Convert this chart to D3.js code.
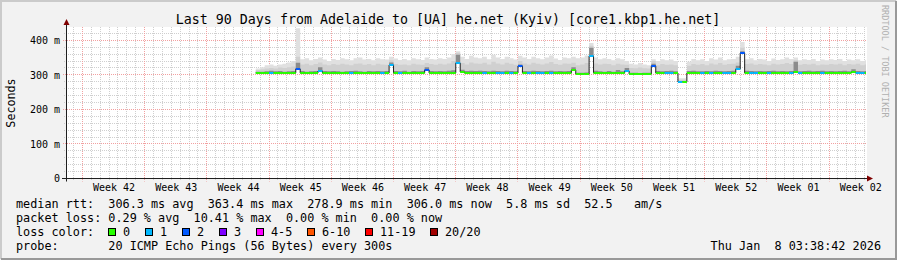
<!DOCTYPE html>
<html>
<head>
<meta charset="utf-8">
<script src="https://cdn.jsdelivr.net/npm/d3@7"></script>
<style>
  body { margin: 0; background: #fff; }
  svg { display: block; font-family: "DejaVu Sans Mono", monospace; }
  text { white-space: pre; }
</style>
</head>
<body>
<script>

//CHART DATA (12 hour samples, first one at Oct 31 12:00)
var endTime = new Date(2026, 0, 8, 3, 38, 42);
var firstSample = new Date(2025, 9, 31, 12, 0, 0);

//median rtt, ms
var median = [
    306,306,306,305,306,306,305,306,306,318,
    306,305,305,306,312,306,305,305,306,305,
    305,305,306,305,305,306,305,305,305,306,
    328,306,305,305,306,305,305,306,315,306,
    305,305,306,305,305,335,307,305,305,306,
    305,305,306,305,305,305,306,305,305,325,
    306,305,305,305,305,306,305,305,306,305,
    305,315,302,302,302,355,306,305,305,305,
    305,306,305,312,302,302,302,302,302,325,
    306,305,305,305,306,279,279,305,305,305,
    305,306,305,305,305,305,305,306,318,362,
    306,305,305,306,305,305,305,306,305,305,
    305,307,305,305,305,306,305,305,305,305,
    306,305,305,305,307,305,305,306
];

//upper quartile of the pings, ms (dark smoke)
var q75 = [
    309,309,310,312,310,311,309,310,311,335,
    311,309,310,311,322,311,310,311,310,309,
    310,311,312,310,309,311,310,311,310,311,
    336,311,310,312,309,311,310,311,322,311,
    310,311,310,312,313,358,315,311,312,311,
    312,311,310,312,311,310,312,311,310,330,
    311,310,312,311,310,311,312,310,311,310,
    311,322,306,306,307,378,312,310,309,311,
    309,314,310,320,306,306,305,306,306,332,
    311,310,311,312,310,282,282,311,312,310,
    310,311,310,312,311,310,311,312,326,368,
    312,311,310,311,310,311,312,310,311,310,
    311,338,310,311,312,310,311,312,310,311,
    310,311,312,310,316,311,310,311
];

//90th percentile of the pings, ms (medium smoke)
var q90 = [
    314,316,318,320,318,321,320,322,324,352,
    330,332,328,331,336,330,328,331,329,332,
    330,328,332,333,329,331,328,332,330,329,
    342,331,329,330,328,332,330,329,334,331,
    329,332,330,333,340,364,334,330,336,333,
    332,335,330,338,333,330,335,332,329,340,
    333,330,335,332,330,333,337,331,329,333,
    332,335,328,330,334,384,333,330,332,331,
    328,332,330,329,320,319,321,319,318,340,
    328,331,329,330,328,286,286,326,331,329,
    331,328,333,330,334,329,331,332,336,378,
    331,333,329,331,330,328,332,330,331,334,
    331,342,329,331,330,332,328,330,329,331,
    330,332,328,331,330,332,328,330
];

//slowest ping, ms (light smoke)
var maxPing = [
    318,322,328,330,326,330,332,336,340,435,
    345,348,342,346,350,344,340,346,343,348,
    345,342,348,350,344,346,342,348,345,344,
    352,347,343,346,342,348,345,343,350,346,
    344,348,346,350,360,368,352,346,355,350,
    348,352,345,358,350,346,352,348,344,355,
    350,346,352,348,345,350,356,347,343,350,
    348,352,348,350,356,392,350,345,348,346,
    342,348,345,340,332,330,334,330,328,345,
    340,345,342,344,340,290,290,338,346,342,
    345,340,348,344,350,342,345,346,352,395,
    345,348,342,346,344,340,347,343,345,350,
    346,350,342,345,343,346,340,344,342,345,
    343,346,340,344,342,345,340,342
];

//lost pings out of 20
var loss = [
    0,0,0,1,0,0,0,0,0,2,
    0,0,0,0,1,0,0,0,0,0,
    0,1,0,0,0,0,0,0,1,0,
    1,0,1,0,0,0,0,0,2,0,
    0,0,0,0,0,1,0,0,0,0,
    0,1,0,0,1,1,0,1,0,2,
    0,1,0,1,1,0,1,0,0,0,
    0,0,0,0,0,1,0,0,0,0,
    0,0,0,1,0,0,0,0,0,2,
    0,0,1,1,0,1,0,0,0,0,
    1,0,1,0,0,1,1,0,1,2,
    0,1,1,0,0,1,0,0,0,0,
    1,0,1,0,0,0,0,1,0,0,
    0,0,0,0,0,1,1,0
];

var lossLabels = ["0", "1", "2", "3", "4-5", "6-10", "11-19", "20/20"];
var lossColors = ["#26ff00", "#00b8ff", "#0059ff", "#7e00ff", "#ff00ff", "#ff5500", "#ff0000", "#a10000"];

var yTicks = [0, 100, 200, 300, 400];

var rttStats = ["306.3 ms avg", "363.4 ms max", "278.9 ms min", "306.0 ms now", "5.8 ms sd", "52.5   am/s"];
var lossStats = ["0.29 % avg", "10.41 % max", "0.00 % min", "0.00 % now"];
var probeText = "20 ICMP Echo Pings (56 Bytes) every 300s";
var titleText = "Last 90 Days from Adelaide to [UA] he.net (Kyiv) [core1.kbp1.he.net]";
var stampText = "Thu Jan  8 03:38:42 2026";


//Set size and plot box
var w = 897;
var h = 260;

var plot = {
    left: 66,
    right: 866,
    top: 27,
    bottom: 178.5
};

var startTime = d3.timeDay.offset(endTime, -90);


//Scales
var x = d3.scaleTime()
    .domain([startTime, endTime])
    .range([plot.left, plot.right]);

var y = d3.scaleLinear()
    .domain([0, 438.4])
    .range([plot.bottom, plot.top]);

function crisp(v) {
    return Math.round(v - 0.5) + 0.5;
}

//median rows snapped to whole pixels so the 2px line stays sharp
function yMed(v) {
    return Math.round(y(v));
}


//Build the samples
var samples = median.map(function(m, i) {
    var t0 = d3.timeHour.offset(firstSample, i * 12);
    var t1 = d3.timeHour.offset(firstSample, (i + 1) * 12);
    if (t1 > endTime) t1 = endTime;
    return { t0: t0, t1: t1, med: m, q75: q75[i], q90: q90[i], max: maxPing[i], loss: loss[i] };
});

//step points incl. a closing point at the end
var pts = samples.map(function(d) {
    return { t: d.t0, med: d.med, q75: d.q75, q90: d.q90, max: d.max };
});
var last = samples[samples.length - 1];
pts.push({ t: last.t1, med: last.med, q75: last.q75, q90: last.q90, max: last.max });


///CHART CREATION STARTS BELOW

var svg = d3.select("body").append("svg")
    .attr("width", w)
    .attr("height", h);

//background + bevel
svg.append("rect")
    .attr("width", w)
    .attr("height", h)
    .attr("fill", "#f2f2f2");

svg.append("path")
    .attr("d", "M1,259 V1 H896")
    .attr("fill", "none")
    .attr("stroke", "#cbcbcb")
    .attr("stroke-width", 2);

svg.append("path")
    .attr("d", "M1,259 H896 V1")
    .attr("fill", "none")
    .attr("stroke", "#999999")
    .attr("stroke-width", 2);

//canvas
svg.append("rect")
    .attr("x", plot.left)
    .attr("y", plot.top)
    .attr("width", plot.right - plot.left + 1)
    .attr("height", plot.bottom - plot.top)
    .attr("fill", "#ffffff");


//Grid
var grid = svg.append("g").attr("class", "grid");

var days = d3.timeDay.range(d3.timeDay.ceil(startTime), endTime);
var sundays = d3.timeSunday.range(d3.timeSunday.ceil(startTime), endTime);

grid.selectAll(".vminor")
    .data(days)
    .enter()
        .append("line")
        .attr("x1", function(d) { return crisp(x(d)); })
        .attr("x2", function(d) { return crisp(x(d)); })
        .attr("y1", plot.top)
        .attr("y2", plot.bottom + 2)
        .attr("stroke", "#cfcfcf")
        .attr("stroke-dasharray", "1,1");

var minorY = d3.range(20, 438, 20).filter(function(v) { return v % 100 !== 0; });

grid.selectAll(".hminor")
    .data(minorY)
    .enter()
        .append("line")
        .attr("x1", plot.left - 2)
        .attr("x2", plot.right)
        .attr("y1", function(d) { return crisp(y(d)); })
        .attr("y2", function(d) { return crisp(y(d)); })
        .attr("stroke", "#cfcfcf")
        .attr("stroke-dasharray", "1,1");

grid.selectAll(".vmajor")
    .data(sundays)
    .enter()
        .append("line")
        .attr("x1", function(d) { return crisp(x(d)); })
        .attr("x2", function(d) { return crisp(x(d)); })
        .attr("y1", plot.top)
        .attr("y2", plot.bottom + 3)
        .attr("stroke", "#f2a0a0")
        .attr("stroke-dasharray", "1,1");

grid.selectAll(".hmajor")
    .data(yTicks.filter(function(v) { return v > 0; }))
    .enter()
        .append("line")
        .attr("x1", plot.left - 3)
        .attr("x2", plot.right)
        .attr("y1", function(d) { return crisp(y(d)); })
        .attr("y2", function(d) { return crisp(y(d)); })
        .attr("stroke", "#f2a0a0")
        .attr("stroke-dasharray", "1,1");


//Smoke
var chart = svg.append("g").attr("class", "data");

var smoke = [
    { key: "max", color: "#e0e0e0" },
    { key: "q90", color: "#d0d0d0" },
    { key: "q75", color: "#8c8c8c" }
];

smoke.forEach(function(band) {
    var area = d3.area()
        .curve(d3.curveStepAfter)
        .x(function(d) { return x(d.t); })
        .y0(function(d) { return yMed(d.med); })
        .y1(function(d) { return y(d[band.key]); });

    chart.append("path")
        .datum(pts)
        .attr("d", area)
        .attr("fill", band.color);
});

//thin dark median line (keeps the jumps visible)
var medLine = d3.line()
    .curve(d3.curveStepAfter)
    .x(function(d) { return x(d.t); })
    .y(function(d) { return yMed(d.med); });

chart.append("path")
    .datum(pts)
    .attr("d", medLine)
    .attr("fill", "none")
    .attr("stroke", "#202020")
    .attr("stroke-width", 1);

//median coloured by loss
chart.selectAll(".med")
    .data(samples)
    .enter()
        .append("line")
        .classed("med", true)
        .attr("x1", function(d) { return x(d.t0); })
        .attr("x2", function(d) { return x(d.t1); })
        .attr("y1", function(d) { return yMed(d.med); })
        .attr("y2", function(d) { return yMed(d.med); })
        .attr("stroke", function(d) { return lossColors[d.loss]; })
        .attr("stroke-width", 2);


//Axes lines + arrows
svg.append("line")
    .attr("x1", plot.left - 4)
    .attr("x2", plot.right + 2)
    .attr("y1", plot.bottom)
    .attr("y2", plot.bottom)
    .attr("stroke", "#1f1f1f");

svg.append("line")
    .attr("x1", plot.left + 0.5)
    .attr("x2", plot.left + 0.5)
    .attr("y1", plot.bottom + 3)
    .attr("y2", 24)
    .attr("stroke", "#1f1f1f");

svg.append("path")
    .attr("d", "M" + (plot.right + 1) + ",175.5 L" + (plot.right + 7) + ",178.5 L" + (plot.right + 1) + ",181.5 Z")
    .attr("fill", "#7f0000");

svg.append("path")
    .attr("d", "M63.5,25 L66.5,19 L69.5,25 Z")
    .attr("fill", "#7f0000");


//Y axis labels
var yAxis = d3.axisLeft(y)
    .tickValues(yTicks)
    .tickSize(0)
    .tickPadding(6)
    .tickFormat(function(d) { return d === 0 ? "0" : d + " m"; });

var yg = svg.append("g")
    .attr("transform", "translate(" + plot.left + ",0)")
    .call(yAxis);
yg.select(".domain").remove();
yg.selectAll("text")
    .style("font-family", "DejaVu Sans Mono")
    .style("font-size", "10px")
    .style("fill", "#000");

//Week labels, centred in each Sunday..Saturday span
var weekCentres = d3.timeSunday.range(d3.timeSunday.floor(startTime), endTime)
    .map(function(d) { return d3.timeHour.offset(d, 84); })
    .filter(function(d) { return d >= startTime && d <= endTime; });

var xAxis = d3.axisBottom(x)
    .tickValues(weekCentres)
    .tickSize(0)
    .tickPadding(5)
    .tickFormat(d3.timeFormat("Week %V"));

var xg = svg.append("g")
    .attr("transform", "translate(0," + plot.bottom + ")")
    .call(xAxis);
xg.select(".domain").remove();
xg.selectAll("text")
    .style("font-family", "DejaVu Sans Mono")
    .style("font-size", "10px")
    .style("fill", "#000");


//Titles
svg.append("text")
    .attr("x", 448)
    .attr("y", 24)
    .style("font-size", "13.3px")
    .style("text-anchor", "middle")
    .text(titleText);

svg.append("text")
    .attr("transform", "translate(15,103) rotate(-90)")
    .style("font-size", "11.7px")
    .style("text-anchor", "middle")
    .text("Seconds");

svg.append("text")
    .attr("transform", "translate(882,5) rotate(90)")
    .style("font-size", "8.5px")
    .style("fill", "#b0b0b0")
    .text("RRDTOOL / TOBI OETIKER");


//Legend
var legendFont = "11.8px";
var legend = svg.append("g").style("font-size", legendFont);

legend.append("text").attr("x", 16).attr("y", 208)
    .text("median rtt:  " + rttStats.join("  "));

legend.append("text").attr("x", 16).attr("y", 222)
    .text("packet loss: " + lossStats.join("  "));

legend.append("text").attr("x", 16).attr("y", 236)
    .text("loss color:");

var swX = 108;
lossLabels.forEach(function(lbl, i) {
    legend.append("rect")
        .attr("x", swX + 0.5)
        .attr("y", 228.5)
        .attr("width", 7)
        .attr("height", 7)
        .attr("fill", lossColors[i])
        .attr("stroke", "#000");
    legend.append("text")
        .attr("x", swX + 15)
        .attr("y", 236)
        .text(lbl);
    swX += 30 + 7 * lbl.length;
});

legend.append("text").attr("x", 16).attr("y", 250)
    .text("probe:       " + probeText);

legend.append("text").attr("x", 881).attr("y", 250)
    .style("text-anchor", "end")
    .text(stampText);

</script>
</body>
</html>
